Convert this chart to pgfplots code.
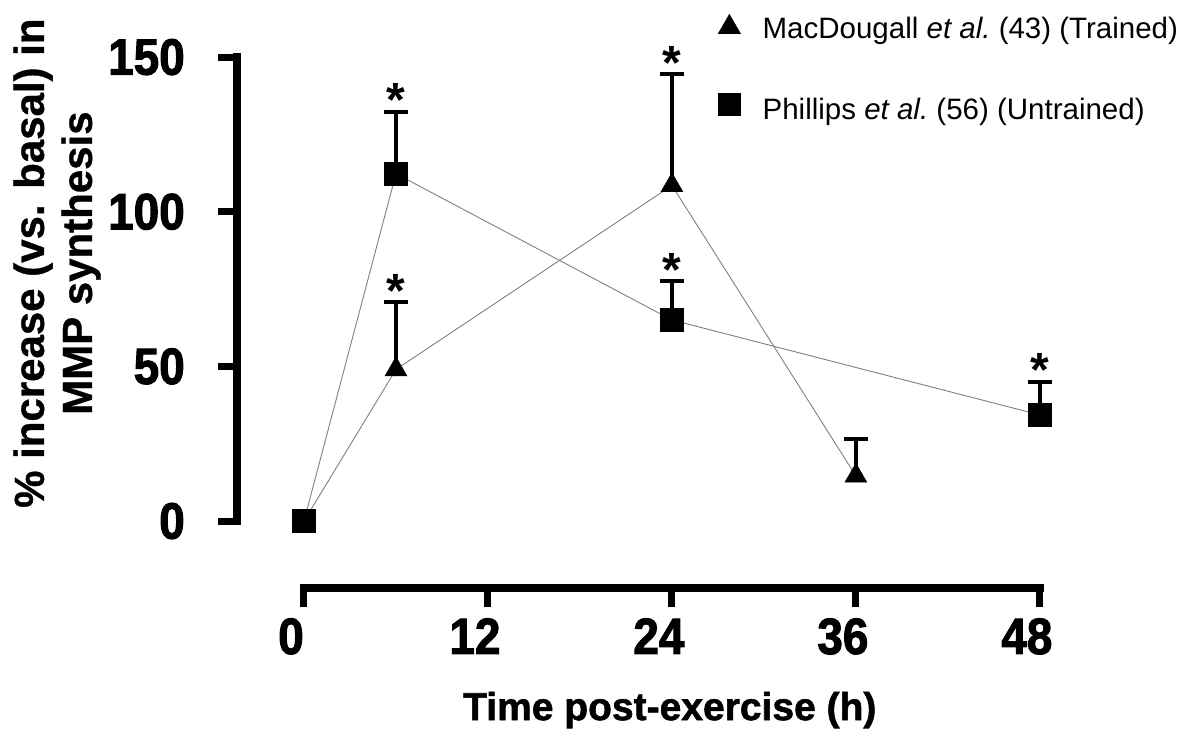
\documentclass[border=0pt]{standalone}
\usepackage{fontspec}
\setmainfont{Liberation Sans}
\newfontfamily\tickfont{Liberation Sans Bold}[FakeStretch=0.9, FakeBold=2]
\newfontfamily\xlabfont{Liberation Sans Bold}[FakeBold=1.5]
\newfontfamily\ylabfont{Liberation Sans Bold}[FakeBold=0.8]
\newfontfamily\starfont{Liberation Sans Bold}
\usepackage{pgfplots}
\pgfplotsset{compat=1.18}

\begin{document}
\begin{tikzpicture}
\begin{axis}[
  x=15.33pt, y=3.093pt,
  xmin=-4.34, xmax=50, ymin=-21.7, ymax=150,
  axis x line*=bottom, axis y line*=left,
  axis line style={draw=none},
  clip=false,
  xtick={0,12,24,36,48}, ytick={0,50,100,150},
  tick align=outside,
  major tick length=19pt,
  tick style={line width=7pt, black},
  /pgf/number format/assume math mode=true,
  ticklabel style={font=\tickfont\fontsize{51}{51}\selectfont, inner sep=0pt},
  yticklabel style={anchor=east, xshift=-33.5pt},
  xticklabel style={anchor=north, xshift=-13pt, yshift=-11pt},
  xlabel={Time post-exercise (h)},
  xlabel style={at={(axis description cs:0.519,-0.2295)}, anchor=center,
    font=\xlabfont\fontsize{39}{39}\selectfont},
  ylabel={\% increase (vs. basal) in\\MMP synthesis},
  ylabel style={at={(axis description cs:-0.2166,0.612)}, anchor=center, align=center,
    font=\ylabfont\fontsize{42}{48}\selectfont},
  legend cell align=left,
  legend style={at={(axis cs:27.0,163.9)}, anchor=north west, draw=none, fill=none,
    inner sep=0pt, row sep=48pt, column sep=22pt,
    font=\fontsize{29.5}{30}\selectfont,
    nodes={inner sep=0pt, text height=21pt, text depth=6pt}},
]
% axis lines restricted to the data range
\draw[line width=8pt, line cap=rect] (axis cs:-4.34,0) -- (axis cs:-4.34,150);
\draw[line width=8pt, line cap=rect] (axis cs:0,-21.7) -- (axis cs:48,-21.7);

% connecting lines
\addplot[black!50, line width=0.9pt, mark=none, forget plot]
  coordinates {(0,0) (6,49) (24,108.5) (36,14.6)};
\addplot[black!50, line width=0.9pt, mark=none, forget plot]
  coordinates {(0,0) (6,112.3) (24,65) (48,34.3)};

% MacDougall et al. (trained)
\addplot[black, only marks, mark=triangle*, mark size=12.7pt, forget plot,
  error bars/.cd, y dir=plus, y explicit,
  error bar style={line width=4pt},
  error mark options={rotate=90, line width=4pt, mark size=12pt}]
  coordinates {(6,49) +- (0,21.8) (24,108.5) +- (0,36) (36,14.6) +- (0,11.9)};

% Phillips et al. (untrained)
\addplot[black, only marks, mark=square*, mark size=11.5pt, forget plot]
  coordinates {(0,0)};
\addplot[black, only marks, mark=square*, mark size=11.5pt, forget plot,
  error bars/.cd, y dir=plus, y explicit,
  error bar style={line width=4pt},
  error mark options={rotate=90, line width=4pt, mark size=12pt}]
  coordinates {(6,112.3) +- (0,20) (24,65) +- (0,12.6) (48,34.3) +- (0,10.7)};

% significance markers above the error bars
\addplot[only marks, mark=none, forget plot,
  nodes near coords={*},
  nodes near coords style={font=\starfont\fontsize{48}{48}\selectfont,
    anchor=base, inner sep=0pt, yshift=-5pt}]
  coordinates {(6,132.3) (6,70.8) (24,144.5) (24,77.6) (48,45)};

\addlegendimage{legend image code/.code={\draw[black, fill=black, only marks, mark=triangle*, mark size=13pt] plot coordinates {(0pt,4pt)};}}
\addlegendentry{MacDougall \textit{et al.}\ (43) (Trained)}
\addlegendimage{legend image code/.code={\draw[black, fill=black, only marks, mark=square*, mark size=11pt] plot coordinates {(0pt,8pt)};}}
\addlegendentry{Phillips \textit{et al.}\ (56) (Untrained)}

\coordinate (TL) at (axis cs:-19.83,168.45);
\coordinate (BR) at (axis cs:57.86,-70.81);
\end{axis}
\pgfresetboundingbox
\path[use as bounding box] (TL) rectangle (BR);
\end{tikzpicture}
\end{document}
